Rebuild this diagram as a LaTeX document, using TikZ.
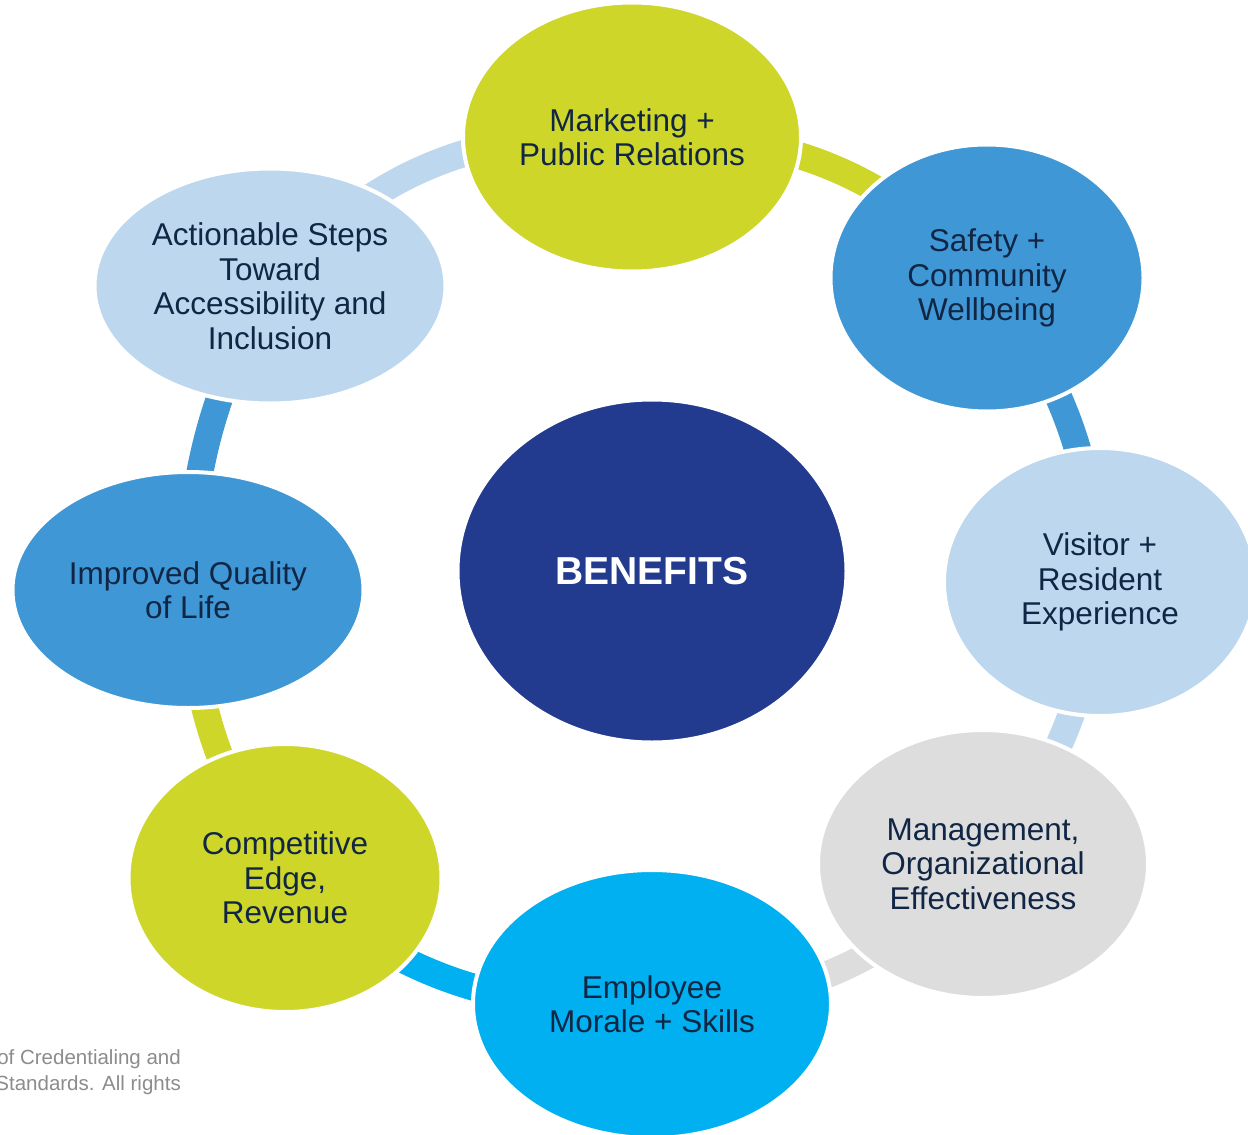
\documentclass[tikz,border=0pt]{standalone}
\usepackage{fontspec}
\setmainfont{Liberation Sans}
\usetikzlibrary{shapes.geometric,backgrounds}
\definecolor{bGreen}{RGB}{205,214,41}
\definecolor{bBlue}{RGB}{63,151,213}
\definecolor{bLight}{RGB}{189,215,238}
\definecolor{bGray}{RGB}{221,221,221}
\definecolor{bCyan}{RGB}{0,176,240}
\definecolor{bNavy}{RGB}{35,59,142}
\definecolor{bText}{RGB}{16,38,68}
\definecolor{bNote}{RGB}{140,140,140}

\begin{document}
\begin{tikzpicture}[x=1pt,y=1pt,
    blob/.style={ellipse, draw=white, line width=4pt, inner sep=0pt, align=center,
      text=bText, font=\fontsize{31.5}{34.5}\selectfont},
    band/.style={line width=27pt, line cap=butt},
    note/.style={anchor=base east, text=bNote, inner sep=0pt, font=\fontsize{20.5}{26}\selectfont}]
%      \draw [help lines] (0, -1135) grid (1248, 0);
      \useasboundingbox (0,-1135) rectangle (1248,0);
      %% the ring of benefits, clockwise from the top
      \node [blob, fill=bGreen, minimum width=338, minimum height=269] (mkt) at (632,-137) {Marketing +\\Public Relations};
      \node [blob, fill=bBlue, minimum width=313, minimum height=267] (safe) at (987,-278) {Safety +\\Community\\Wellbeing};
      \node [blob, fill=bLight, minimum width=312, minimum height=268] (visit) at (1100,-582) {Visitor +\\Resident\\Experience};
      \node [blob, fill=bGray, minimum width=330, minimum height=268] (mgmt) at (983,-864) {Management,\\Organizational\\Effectiveness};
      \node [blob, fill=bCyan, minimum width=358, minimum height=268] (staff) at (652,-1004) {Employee\\Morale + Skills};
      \node [blob, fill=bGreen, minimum width=313, minimum height=268] (comp) at (285,-878) {Competitive\\Edge,\\Revenue};
      \node [blob, fill=bBlue, minimum width=351, minimum height=236] (life) at (188,-590) {Improved Quality\\of Life};
      \node [blob, fill=bLight, minimum width=351, minimum height=235] (steps) at (270,-286) {Actionable Steps\\Toward\\Accessibility and\\Inclusion};
      %% the middle
      \node [blob, fill=bNavy, text=white, minimum width=389, minimum height=343,
        font=\fontsize{39}{44}\selectfont\bfseries] (core) at (652,-571) {BENEFITS};
      %% footer, cut at the left edge
      \node [note] (note1) at (181,-1064) {of Credentialing and};
      \node [note] (note2) at (181,-1090) {Standards. All rights};
      \begin{scope}[on background layer]
        \fill [white] (0,-1135) rectangle (1248,0);
        %% each band takes the colour of the node it leaves
        \foreach \a/\b/\c/\d in {mkt/safe/bGreen/24, safe/visit/bBlue/16,
            visit/mgmt/bLight/16, mgmt/staff/bGray/23, staff/comp/bCyan/22,
            comp/life/bGreen/15, life/steps/bBlue/13, steps/mkt/bLight/26} {
          \draw [band, \c] (\a.center) to [bend left=\d] (\b.center);
        }
      \end{scope}
    \end{tikzpicture}
\end{document}
